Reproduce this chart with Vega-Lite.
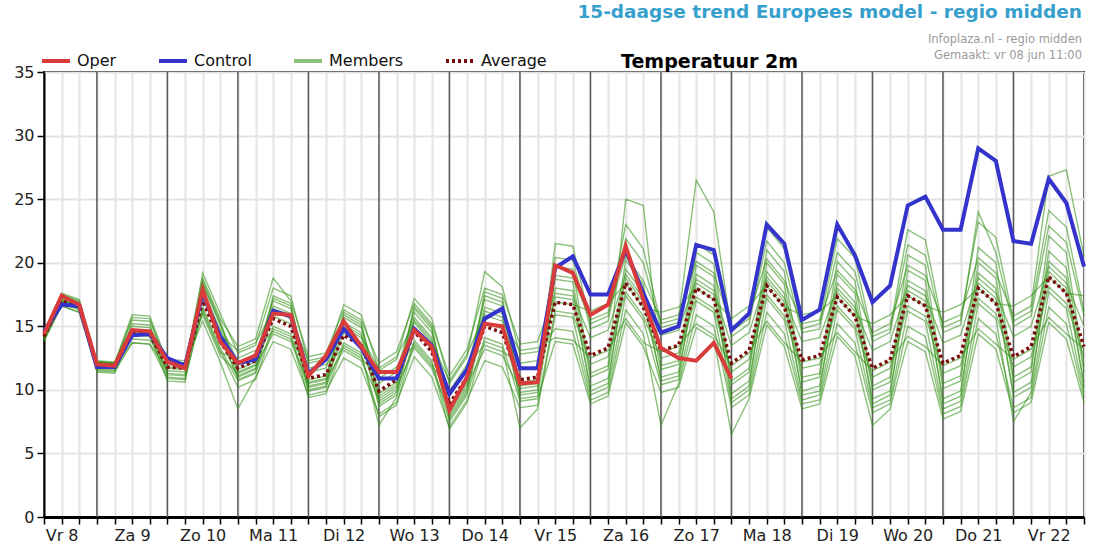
{
  "$schema": "https://vega.github.io/schema/vega-lite/v6.json",
  "width": 1040,
  "height": 445,
  "autosize": "none",
  "padding": {"left": 44, "top": 72, "right": 20, "bottom": 36},
  "background": "white",
  "title": {
    "text": "15-daagse trend Europees model - regio midden",
    "subtitle": ["Infoplaza.nl - regio midden", "Gemaakt: vr 08 jun 11:00"],
    "anchor": "end",
    "frame": "group",
    "dx": -2,
    "font": "DejaVu Sans",
    "fontSize": 18.5,
    "fontWeight": "bold",
    "color": "#379fcc",
    "subtitleFont": "DejaVu Sans",
    "subtitleFontSize": 11.5,
    "subtitleColor": "#9a9a9a",
    "subtitleLineHeight": 16,
    "subtitlePadding": 12,
    "offset": -16
  },
  "config": {
    "view": {"stroke": "#000", "strokeWidth": 2},
    "font": "DejaVu Sans"
  },
  "datasets": {
    "days": [{"t": 3}, {"t": 7}, {"t": 11}, {"t": 15}, {"t": 19}, {"t": 23}, {"t": 27}, {"t": 31}, {"t": 35}, {"t": 39}, {"t": 43}, {"t": 47}, {"t": 51}, {"t": 55}],
    "runs": [
      {"t":0,"oper":14.4,"control":14.6,"avg":14.2,"m01":14.5,"m02":13.9,"m03":14.3,"m04":14.1,"m05":14.6,"m06":13.8,"m07":14.2,"m08":14.4,"m09":14.0,"m10":14.2,"m11":13.9,"m12":14.3,"m13":14.1,"m14":14.4},
      {"t":1,"oper":17.4,"control":16.7,"avg":17.0,"m01":17.4,"m02":16.9,"m03":17.0,"m04":17.1,"m05":17.6,"m06":16.6,"m07":17.3,"m08":17.2,"m09":16.6,"m10":16.8,"m11":16.9,"m12":17.1,"m13":17.0,"m14":17.5},
      {"t":2,"oper":16.7,"control":16.6,"avg":16.5,"m01":16.9,"m02":16.4,"m03":16.5,"m04":16.6,"m05":17.1,"m06":16.1,"m07":16.8,"m08":16.7,"m09":16.1,"m10":16.3,"m11":16.4,"m12":16.6,"m13":16.5,"m14":17.0},
      {"t":3,"oper":12.0,"control":11.8,"avg":12.0,"m01":12.2,"m02":11.6,"m03":12.2,"m04":11.8,"m05":12.2,"m06":11.5,"m07":11.7,"m08":12.2,"m09":11.9,"m10":12.3,"m11":11.4,"m12":12.2,"m13":11.8,"m14":12.0},
      {"t":4,"oper":11.9,"control":11.8,"avg":11.9,"m01":12.1,"m02":11.5,"m03":12.1,"m04":11.7,"m05":12.1,"m06":11.4,"m07":11.6,"m08":12.1,"m09":11.8,"m10":12.2,"m11":11.3,"m12":12.1,"m13":11.7,"m14":11.9},
      {"t":5,"oper":14.7,"control":14.3,"avg":14.5,"m01":15.5,"m02":14.3,"m03":14.5,"m04":14.6,"m05":15.9,"m06":13.7,"m07":15.2,"m08":15.0,"m09":13.7,"m10":14.0,"m11":14.4,"m12":14.7,"m13":14.6,"m14":15.7},
      {"t":6,"oper":14.6,"control":14.4,"avg":14.4,"m01":15.4,"m02":14.2,"m03":14.4,"m04":14.5,"m05":15.8,"m06":13.6,"m07":15.1,"m08":14.9,"m09":13.6,"m10":13.9,"m11":14.3,"m12":14.6,"m13":14.5,"m14":15.6},
      {"t":7,"oper":12.2,"control":12.5,"avg":11.8,"m01":12.2,"m02":11.0,"m03":12.2,"m04":11.3,"m05":12.2,"m06":10.9,"m07":11.2,"m08":12.2,"m09":11.7,"m10":12.4,"m11":10.7,"m12":12.2,"m13":11.5,"m14":11.8},
      {"t":8,"oper":11.7,"control":11.9,"avg":11.7,"m01":12.1,"m02":10.9,"m03":12.1,"m04":11.2,"m05":12.1,"m06":10.8,"m07":11.1,"m08":12.1,"m09":11.6,"m10":12.3,"m11":10.6,"m12":12.1,"m13":11.4,"m14":11.7},
      {"t":9,"oper":17.9,"control":17.6,"avg":17.0,"m01":18.3,"m02":16.3,"m03":18.8,"m04":17.2,"m05":17.9,"m06":16.5,"m07":18.4,"m08":15.4,"m09":17.5,"m10":16.1,"m11":18.6,"m12":15.9,"m13":19.2,"m14":17.7},
      {"t":10,"oper":13.8,"control":14.2,"avg":13.8,"m01":15.1,"m02":13.1,"m03":15.6,"m04":14.0,"m05":14.7,"m06":13.3,"m07":15.2,"m08":12.2,"m09":14.3,"m10":12.9,"m11":15.4,"m12":12.7,"m13":16.0,"m14":14.5},
      {"t":11,"oper":12.1,"control":12.1,"avg":11.7,"m01":12.2,"m02":10.2,"m03":13.4,"m04":11.0,"m05":11.6,"m06":10.7,"m07":11.1,"m08":8.5,"m09":13.1,"m10":12.5,"m11":11.4,"m12":11.3,"m13":12.9,"m14":10.8},
      {"t":12,"oper":12.7,"control":12.4,"avg":12.3,"m01":12.8,"m02":10.8,"m03":14.0,"m04":11.6,"m05":12.2,"m06":11.3,"m07":11.7,"m08":11.0,"m09":13.7,"m10":13.1,"m11":12.0,"m12":11.9,"m13":13.5,"m14":11.4},
      {"t":13,"oper":16.0,"control":16.2,"avg":15.6,"m01":17.0,"m02":14.8,"m03":18.8,"m04":15.8,"m05":16.6,"m06":15.0,"m07":17.2,"m08":13.8,"m09":16.2,"m10":14.6,"m11":17.4,"m12":14.4,"m13":18.0,"m14":16.4},
      {"t":14,"oper":15.9,"control":15.8,"avg":15.0,"m01":16.4,"m02":14.2,"m03":17.0,"m04":15.2,"m05":16.0,"m06":14.4,"m07":16.6,"m08":13.2,"m09":15.6,"m10":14.0,"m11":16.8,"m12":13.8,"m13":17.4,"m14":15.8},
      {"t":15,"oper":11.1,"control":11.3,"avg":10.9,"m01":11.4,"m02":9.4,"m03":12.6,"m04":10.2,"m05":10.8,"m06":9.9,"m07":10.3,"m08":9.6,"m09":12.3,"m10":11.7,"m11":10.6,"m12":10.5,"m13":12.1,"m14":10.0},
      {"t":16,"oper":12.7,"control":12.4,"avg":11.2,"m01":11.7,"m02":9.7,"m03":12.9,"m04":10.5,"m05":11.1,"m06":10.2,"m07":10.6,"m08":9.9,"m09":12.6,"m10":12.0,"m11":10.9,"m12":10.8,"m13":12.4,"m14":10.3},
      {"t":17,"oper":15.4,"control":14.8,"avg":14.3,"m01":15.7,"m02":13.5,"m03":16.3,"m04":14.5,"m05":15.3,"m06":13.7,"m07":15.9,"m08":12.5,"m09":14.9,"m10":13.3,"m11":16.1,"m12":13.1,"m13":16.7,"m14":15.1},
      {"t":18,"oper":13.4,"control":13.3,"avg":13.5,"m01":14.9,"m02":12.7,"m03":15.5,"m04":13.7,"m05":14.5,"m06":12.9,"m07":15.1,"m08":11.7,"m09":14.1,"m10":12.5,"m11":15.3,"m12":12.3,"m13":15.9,"m14":14.3},
      {"t":19,"oper":11.4,"control":10.9,"avg":9.9,"m01":10.5,"m02":7.9,"m03":12.1,"m04":8.9,"m05":9.7,"m06":7.2,"m07":9.1,"m08":8.1,"m09":11.7,"m10":10.9,"m11":9.5,"m12":9.3,"m13":11.5,"m14":8.7},
      {"t":20,"oper":11.4,"control":10.9,"avg":10.8,"m01":11.4,"m02":8.8,"m03":13.0,"m04":9.8,"m05":10.6,"m06":9.4,"m07":10.0,"m08":9.0,"m09":12.6,"m10":11.8,"m11":10.4,"m12":10.2,"m13":12.4,"m14":9.6},
      {"t":21,"oper":14.7,"control":14.8,"avg":14.6,"m01":16.1,"m02":13.7,"m03":16.8,"m04":14.8,"m05":15.7,"m06":13.9,"m07":16.4,"m08":12.6,"m09":15.3,"m10":13.5,"m11":16.6,"m12":13.3,"m13":17.2,"m14":15.5},
      {"t":22,"oper":13.4,"control":13.5,"avg":13.0,"m01":14.5,"m02":12.1,"m03":15.2,"m04":13.2,"m05":14.1,"m06":12.3,"m07":14.8,"m08":11.0,"m09":13.7,"m10":11.9,"m11":15.0,"m12":11.7,"m13":15.6,"m14":13.9},
      {"t":23,"oper":8.4,"control":9.7,"avg":8.9,"m01":9.5,"m02":6.9,"m03":11.1,"m04":7.9,"m05":8.7,"m06":7.5,"m07":8.1,"m08":7.1,"m09":10.7,"m10":9.9,"m11":8.5,"m12":8.3,"m13":10.5,"m14":7.7},
      {"t":24,"oper":11.0,"control":11.6,"avg":11.0,"m01":11.6,"m02":9.0,"m03":13.2,"m04":10.0,"m05":10.8,"m06":9.6,"m07":10.2,"m08":9.2,"m09":12.8,"m10":12.0,"m11":10.6,"m12":10.4,"m13":12.6,"m14":9.8},
      {"t":25,"oper":15.2,"control":15.6,"avg":15.0,"m01":17.1,"m02":13.8,"m03":18.0,"m04":15.3,"m05":16.5,"m06":14.1,"m07":17.4,"m08":12.3,"m09":15.9,"m10":13.5,"m11":17.7,"m12":13.2,"m13":19.3,"m14":16.2},
      {"t":26,"oper":15.0,"control":16.4,"avg":14.5,"m01":16.6,"m02":13.3,"m03":17.5,"m04":14.8,"m05":16.0,"m06":13.6,"m07":16.9,"m08":11.8,"m09":15.4,"m10":13.0,"m11":17.2,"m12":12.7,"m13":18.1,"m14":15.7},
      {"t":27,"oper":10.5,"control":11.7,"avg":10.8,"m01":11.6,"m02":7.0,"m03":13.6,"m04":9.6,"m05":10.6,"m06":9.1,"m07":9.8,"m08":8.6,"m09":13.1,"m10":12.1,"m11":10.3,"m12":10.1,"m13":12.8,"m14":9.3},
      {"t":28,"oper":10.6,"control":11.7,"avg":11.0,"m01":11.8,"m02":8.5,"m03":13.8,"m04":9.8,"m05":10.8,"m06":9.3,"m07":10.0,"m08":8.8,"m09":13.3,"m10":12.3,"m11":10.5,"m12":10.3,"m13":13.0,"m14":9.5},
      {"t":29,"oper":19.8,"control":19.6,"avg":16.9,"m01":20.4,"m02":15.9,"m03":17.6,"m04":21.5,"m05":17.3,"m06":13.8,"m07":19.7,"m08":16.2,"m09":14.1,"m10":16.9,"m11":18.7,"m12":19.0,"m13":14.8,"m14":18.0},
      {"t":30,"oper":19.2,"control":20.5,"avg":16.7,"m01":20.2,"m02":15.7,"m03":17.4,"m04":21.3,"m05":17.1,"m06":13.6,"m07":19.5,"m08":16.0,"m09":13.9,"m10":16.7,"m11":18.5,"m12":18.8,"m13":14.6,"m14":17.8},
      {"t":31,"oper":15.9,"control":17.5,"avg":12.7,"m01":14.8,"m02":9.6,"m03":14.1,"m04":15.2,"m05":10.3,"m06":8.9,"m07":11.3,"m08":12.0,"m09":12.5,"m10":16.2,"m11":11.0,"m12":15.5,"m13":9.2,"m14":9.9},
      {"t":32,"oper":16.7,"control":17.5,"avg":13.3,"m01":15.4,"m02":10.2,"m03":14.7,"m04":15.8,"m05":10.9,"m06":9.5,"m07":11.9,"m08":12.6,"m09":13.1,"m10":16.8,"m11":11.6,"m12":16.1,"m13":9.8,"m14":10.5},
      {"t":33,"oper":21.3,"control":21.0,"avg":18.4,"m01":21.9,"m02":17.4,"m03":19.1,"m04":23.0,"m05":18.8,"m06":15.3,"m07":25.0,"m08":17.7,"m09":15.6,"m10":18.4,"m11":20.2,"m12":20.5,"m13":16.3,"m14":19.5},
      {"t":34,"oper":17.1,"control":17.6,"avg":16.5,"m01":20.0,"m02":15.5,"m03":17.2,"m04":21.1,"m05":16.9,"m06":13.4,"m07":24.5,"m08":15.8,"m09":13.7,"m10":16.5,"m11":18.3,"m12":18.6,"m13":14.4,"m14":17.6},
      {"t":35,"oper":13.3,"control":14.5,"avg":13.1,"m01":14.9,"m02":10.4,"m03":14.3,"m04":15.2,"m05":11.0,"m06":9.8,"m07":11.9,"m08":12.5,"m09":13.0,"m10":16.1,"m11":11.6,"m12":15.5,"m13":7.2,"m14":10.7},
      {"t":36,"oper":12.5,"control":15.0,"avg":13.5,"m01":15.3,"m02":10.8,"m03":14.7,"m04":15.6,"m05":11.4,"m06":10.2,"m07":12.3,"m08":12.9,"m09":13.4,"m10":16.5,"m11":12.0,"m12":15.9,"m13":10.5,"m14":11.1},
      {"t":37,"oper":12.3,"control":21.4,"avg":18.0,"m01":21.5,"m02":17.0,"m03":18.7,"m04":26.5,"m05":18.4,"m06":14.9,"m07":20.8,"m08":17.3,"m09":15.2,"m10":18.0,"m11":19.8,"m12":20.1,"m13":15.9,"m14":19.1},
      {"t":38,"oper":13.7,"control":21.0,"avg":17.1,"m01":20.6,"m02":16.1,"m03":17.8,"m04":24.0,"m05":17.5,"m06":14.0,"m07":19.9,"m08":16.4,"m09":14.3,"m10":17.1,"m11":18.9,"m12":19.2,"m13":15.0,"m14":18.2},
      {"t":39,"oper":10.9,"control":14.7,"avg":12.1,"m01":14.2,"m02":9.0,"m03":13.5,"m04":14.6,"m05":9.7,"m06":6.5,"m07":10.7,"m08":11.4,"m09":11.9,"m10":15.6,"m11":10.4,"m12":14.9,"m13":8.6,"m14":9.3},
      {"t":40,"control":16.0,"avg":13.1,"m01":15.2,"m02":10.0,"m03":14.5,"m04":15.6,"m05":10.7,"m06":9.3,"m07":11.7,"m08":12.4,"m09":12.9,"m10":16.6,"m11":11.4,"m12":15.9,"m13":9.6,"m14":10.3},
      {"t":41,"control":23.0,"avg":18.2,"m01":21.7,"m02":17.2,"m03":18.9,"m04":22.8,"m05":18.6,"m06":15.1,"m07":21.0,"m08":17.5,"m09":15.4,"m10":18.2,"m11":20.0,"m12":20.3,"m13":16.1,"m14":19.3},
      {"t":42,"control":21.5,"avg":16.5,"m01":20.0,"m02":15.5,"m03":17.2,"m04":21.1,"m05":16.9,"m06":13.4,"m07":19.3,"m08":15.8,"m09":13.7,"m10":16.5,"m11":18.3,"m12":18.6,"m13":14.4,"m14":17.6},
      {"t":43,"control":15.5,"avg":12.35,"m01":14.5,"m02":9.2,"m03":13.8,"m04":14.8,"m05":9.9,"m06":8.5,"m07":11.0,"m08":11.7,"m09":12.2,"m10":15.9,"m11":10.6,"m12":15.2,"m13":8.9,"m14":9.6},
      {"t":44,"control":16.3,"avg":12.7,"m01":14.8,"m02":9.6,"m03":14.1,"m04":15.2,"m05":10.3,"m06":8.9,"m07":11.3,"m08":12.0,"m09":12.5,"m10":16.2,"m11":11.0,"m12":15.5,"m13":9.2,"m14":9.9},
      {"t":45,"control":23.0,"avg":17.3,"m01":20.8,"m02":16.3,"m03":18.0,"m04":21.9,"m05":17.7,"m06":14.2,"m07":20.1,"m08":16.6,"m09":14.5,"m10":17.3,"m11":19.1,"m12":19.4,"m13":15.2,"m14":18.4},
      {"t":46,"control":20.6,"avg":15.8,"m01":19.3,"m02":14.8,"m03":16.5,"m04":20.4,"m05":16.2,"m06":12.7,"m07":18.6,"m08":15.1,"m09":13.0,"m10":15.8,"m11":17.6,"m12":17.9,"m13":13.7,"m14":16.9},
      {"t":47,"control":16.9,"avg":11.7,"m01":13.8,"m02":8.6,"m03":13.1,"m04":14.2,"m05":9.3,"m06":7.2,"m07":10.3,"m08":11.0,"m09":11.5,"m10":15.2,"m11":10.0,"m12":14.5,"m13":8.2,"m14":8.9},
      {"t":48,"control":18.2,"avg":12.35,"m01":14.5,"m02":9.2,"m03":13.8,"m04":14.8,"m05":9.9,"m06":8.5,"m07":11.0,"m08":11.7,"m09":12.2,"m10":15.9,"m11":10.6,"m12":15.2,"m13":8.9,"m14":9.6},
      {"t":49,"control":24.5,"avg":17.4,"m01":21.4,"m02":16.2,"m03":18.2,"m04":22.6,"m05":17.8,"m06":13.8,"m07":20.6,"m08":16.6,"m09":14.2,"m10":17.4,"m11":19.4,"m12":19.8,"m13":15.0,"m14":18.6},
      {"t":50,"control":25.2,"avg":16.6,"m01":20.6,"m02":15.4,"m03":17.4,"m04":21.8,"m05":17.0,"m06":13.0,"m07":19.8,"m08":15.8,"m09":13.4,"m10":16.6,"m11":18.6,"m12":19.0,"m13":14.2,"m14":17.8},
      {"t":51,"control":22.6,"avg":12.1,"m01":14.5,"m02":8.5,"m03":13.7,"m04":14.9,"m05":9.3,"m06":7.7,"m07":10.5,"m08":11.3,"m09":11.9,"m10":16.1,"m11":10.1,"m12":15.3,"m13":8.1,"m14":8.9},
      {"t":52,"control":22.6,"avg":12.7,"m01":15.1,"m02":9.1,"m03":14.3,"m04":15.5,"m05":9.9,"m06":8.3,"m07":11.1,"m08":11.9,"m09":12.5,"m10":16.7,"m11":10.7,"m12":15.9,"m13":8.7,"m14":9.5},
      {"t":53,"control":29.0,"avg":18.0,"m01":24.0,"m02":16.8,"m03":18.8,"m04":23.2,"m05":18.4,"m06":14.4,"m07":21.2,"m08":17.2,"m09":14.8,"m10":18.0,"m11":20.0,"m12":20.4,"m13":15.6,"m14":19.2},
      {"t":54,"control":28.0,"avg":16.8,"m01":20.8,"m02":15.6,"m03":17.6,"m04":22.0,"m05":17.2,"m06":13.2,"m07":20.0,"m08":16.0,"m09":13.6,"m10":16.8,"m11":18.8,"m12":19.2,"m13":14.4,"m14":18.0},
      {"t":55,"control":21.7,"avg":12.6,"m01":15.0,"m02":7.5,"m03":14.2,"m04":15.4,"m05":9.8,"m06":8.2,"m07":11.0,"m08":11.8,"m09":12.4,"m10":16.6,"m11":10.6,"m12":15.8,"m13":8.6,"m14":9.4},
      {"t":56,"control":21.5,"avg":13.4,"m01":15.8,"m02":9.8,"m03":15.0,"m04":16.2,"m05":10.6,"m06":9.0,"m07":11.8,"m08":12.6,"m09":13.2,"m10":17.4,"m11":11.4,"m12":16.6,"m13":9.4,"m14":10.2},
      {"t":57,"control":26.6,"avg":18.9,"m01":22.9,"m02":17.7,"m03":19.7,"m04":24.1,"m05":19.3,"m06":15.3,"m07":22.1,"m08":18.1,"m09":15.7,"m10":18.9,"m11":20.9,"m12":26.8,"m13":16.5,"m14":20.1},
      {"t":58,"control":24.7,"avg":17.6,"m01":21.6,"m02":16.4,"m03":18.4,"m04":22.8,"m05":18.0,"m06":14.0,"m07":20.8,"m08":16.8,"m09":14.4,"m10":17.6,"m11":19.6,"m12":27.3,"m13":15.2,"m14":18.8},
      {"t":59,"control":19.7,"avg":13.4,"m01":15.8,"m02":9.8,"m03":15.0,"m04":16.2,"m05":10.6,"m06":9.0,"m07":11.8,"m08":12.6,"m09":13.2,"m10":17.4,"m11":11.4,"m12":20.5,"m13":9.4,"m14":10.2}
    ]
  },
  "encoding": {
    "x": {
      "field": "t",
      "type": "quantitative",
      "scale": {"domain": [0, 59], "nice": false, "zero": false},
      "axis": {
        "title": null,
        "values": [0,1,2,3,4,5,6,7,8,9,10,11,12,13,14,15,16,17,18,19,20,21,22,23,24,25,26,27,28,29,30,31,32,33,34,35,36,37,38,39,40,41,42,43,44,45,46,47,48,49,50,51,52,53,54,55,56,57,58,59],
        "labelExpr": "datum.value % 4 == 1 ? ['Vr','Za','Zo','Ma','Di','Wo','Do'][((datum.value - 1) / 4) % 7] + ' ' + (8 + (datum.value - 1) / 4) : ''",
        "labelOverlap": false,
        "labelFontSize": 16,
        "labelColor": "#222",
        "labelPadding": 3,
        "grid": true,
        "gridColor": "#e4e4e4",
        "gridWidth": 2,
        "domainColor": "#000",
        "domainWidth": 3,
        "tickColor": "#000",
        "tickSize": 7,
        "tickWidth": 1.5
      }
    }
  },
  "layer": [
    {
      "data": {"name": "days"},
      "mark": {"type": "rule", "color": "#5a5a5a", "strokeWidth": 1.5},
      "encoding": {}
    },
    {
      "data": {"name": "runs"},
      "transform": [{"fold": ["m01","m02","m03","m04","m05","m06","m07","m08","m09","m10","m11","m12","m13","m14"], "as": ["member", "v"]}],
      "mark": {"type": "line", "strokeWidth": 1.4},
      "encoding": {
        "y": {
          "field": "v",
          "type": "quantitative",
          "scale": {"domain": [0, 35], "nice": false},
          "axis": {
            "title": "Temperatuur 2m",
            "titleAngle": 0,
            "titleX": 665,
            "titleY": -5,
            "titleAlign": "center",
            "titleBaseline": "alphabetic",
            "titleFontSize": 19,
            "titleFontWeight": "bold",
            "titleColor": "#000",
            "values": [0, 5, 10, 15, 20, 25, 30, 35],
            "labelFontSize": 16,
            "labelColor": "#222",
            "labelPadding": 3,
            "grid": true,
            "gridColor": "#e4e4e4",
            "gridWidth": 2,
            "domainColor": "#000",
            "domainWidth": 2,
            "tickColor": "#000",
            "tickSize": 7,
            "tickWidth": 1.5
          }
        },
        "detail": {"field": "member"},
        "color": {
          "datum": "Members",
          "scale": {
            "domain": ["Oper", "Control", "Members", "Average"],
            "range": ["#d93b3b", "#3434cc", "rgba(45,142,16,0.55)", "#7a0c0c"]
          },
          "legend": {
            "title": null,
            "orient": "none",
            "legendX": -4,
            "legendY": -27,
            "direction": "horizontal",
            "columns": 4,
            "columnPadding": 34,
            "padding": 0,
            "symbolType": "stroke",
            "symbolSize": 784,
            "symbolStrokeWidth": 4,
            "symbolOpacity": 1,
            "labelFontSize": 16,
            "labelColor": "#111",
            "labelOffset": 5
          }
        }
      }
    },
    {
      "data": {"name": "runs"},
      "transform": [{"fold": ["avg"], "as": ["series", "v"]}],
      "mark": {"type": "line", "strokeWidth": 3.5},
      "encoding": {
        "y": {"field": "v", "type": "quantitative"},
        "color": {"datum": "Average"},
        "strokeDash": {
          "datum": "Average",
          "scale": {
            "domain": ["Oper", "Control", "Members", "Average"],
            "range": [[1, 0], [1, 0], [1, 0], [3, 3]]
          },
          "legend": {"title": null}
        }
      }
    },
    {
      "data": {"name": "runs"},
      "transform": [{"fold": ["control"], "as": ["series", "v"]}],
      "mark": {"type": "line", "strokeWidth": 4},
      "encoding": {"y": {"field": "v", "type": "quantitative"}, "color": {"datum": "Control"}}
    },
    {
      "data": {"name": "runs"},
      "transform": [{"fold": ["oper"], "as": ["series", "v"]}],
      "mark": {"type": "line", "strokeWidth": 4},
      "encoding": {"y": {"field": "v", "type": "quantitative"}, "color": {"datum": "Oper"}}
    }
  ]
}
